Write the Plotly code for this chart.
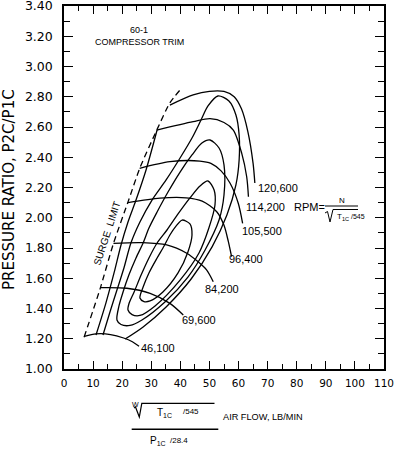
import plotly.graph_objects as go

# ---------------- data ----------------
SURGE_X = [6.9, 12.4, 17.0, 22.1, 26.1, 31.9, 36.4, 40.1]
SURGE_Y = [1.21, 1.53, 1.83, 2.11, 2.33, 2.58, 2.76, 2.85]

SPEED_LABELS = ["46,100", "69,600", "84,200", "96,400", "105,500", "114,200", "120,600"]
SP_46100_X = [7.0, 11.0, 16.0, 20.5, 23.5, 25.8]
SP_46100_Y = [1.215, 1.232, 1.228, 1.205, 1.18, 1.15]
SP_69600_X = [12.4, 21.6, 29.6, 36.4, 41.0]
SP_69600_Y = [1.538, 1.534, 1.50, 1.434, 1.357]
SP_84200_X = [17.0, 27.0, 35.3, 42.2, 46.0, 49.0, 51.3]
SP_84200_Y = [1.831, 1.835, 1.82, 1.765, 1.71, 1.655, 1.577]
SP_96400_X = [22.0, 33.0, 42.0, 47.5, 52.5, 55.0, 56.5, 57.6]
SP_96400_Y = [2.10, 2.13, 2.132, 2.11, 2.04, 1.95, 1.842, 1.743]
SP_105500_X = [26.0, 36.4, 46.7, 50.5, 54.0, 57.1, 59.9, 61.4]
SP_105500_Y = [2.327, 2.371, 2.375, 2.36, 2.31, 2.228, 2.096, 1.963]
SP_114200_X = [31.9, 44.4, 50.2, 55.0, 58.2, 61.1, 62.8, 63.4]
SP_114200_Y = [2.58, 2.635, 2.655, 2.63, 2.58, 2.426, 2.271, 2.139]
SP_120600_X = [36.4, 44.4, 50.0, 55.0, 58.5, 61.0, 63.2, 65.0, 65.6]
SP_120600_Y = [2.745, 2.812, 2.836, 2.835, 2.80, 2.72, 2.57, 2.36, 2.23]

# efficiency contours
EFF_D_X = [40.6, 38.5, 36.4, 34.4, 32.0, 29.2, 27.2, 26.1, 27.5, 29.6, 34.0, 39.2, 42.6, 44.0, 43.3, 40.6]
EFF_D_Y = [1.985, 1.945, 1.886, 1.813, 1.734, 1.635, 1.542, 1.469, 1.446, 1.450, 1.509, 1.635, 1.774, 1.886, 1.959, 1.985]
EFF_C_X = [49.5, 46.75, 43.3, 39.2, 35.4, 32.0, 29.2, 26.5, 24.1, 22.3, 22.0, 23.4, 26.1, 31.3, 39.9, 46.4, 49.8, 51.9, 51.6, 49.5]
EFF_C_Y = [2.243, 2.210, 2.131, 2.025, 1.919, 1.833, 1.734, 1.621, 1.509, 1.430, 1.390, 1.360, 1.354, 1.417, 1.588, 1.767, 1.932, 2.084, 2.183, 2.243]
EFF_B_X = [50.2, 47.4, 44.0, 39.9, 35.75, 32.0, 29.2, 27.2, 24.75, 22.3, 20.3, 18.9, 18.2, 19.6, 22.7, 26.8, 34.7, 42.6, 48.5, 53.3, 55.0, 55.0, 53.3, 50.2]
EFF_B_Y = [2.514, 2.494, 2.415, 2.302, 2.170, 2.038, 1.932, 1.833, 1.734, 1.621, 1.509, 1.417, 1.324, 1.294, 1.288, 1.324, 1.443, 1.608, 1.787, 1.985, 2.150, 2.349, 2.461, 2.514]
EFF_A_X = [13.4, 15.8, 18.2, 20.6, 23.0, 26.1, 30.25, 35.1, 39.9, 44.0, 47.1, 49.5, 52.9, 56.7, 59.1, 60.2, 60.2, 59.1, 56.0, 50.9, 43.7, 35.1, 27.2, 21.0]
EFF_A_Y = [1.225, 1.377, 1.522, 1.668, 1.833, 1.972, 2.117, 2.250, 2.395, 2.527, 2.646, 2.739, 2.805, 2.772, 2.679, 2.547, 2.382, 2.217, 2.018, 1.807, 1.595, 1.410, 1.278, 1.198]
EFF_L_X = [11.0, 14.4, 17.2, 19.6, 22.0, 24.75, 28.2, 32.0]
EFF_L_Y = [1.225, 1.436, 1.635, 1.820, 1.972, 2.117, 2.316, 2.580]

X_TICKS = [0, 10, 20, 30, 40, 50, 60, 70, 80, 90, 100, 110]
Y_TICKS = [1.0, 1.2, 1.4, 1.6, 1.8, 2.0, 2.2, 2.4, 2.6, 2.8, 3.0, 3.2, 3.4]

# ---------------- layout helpers ----------------
W, H = 399, 450
ML, MR, MT, MB = 64, 15, 6, 81
PW, PH = W - ML - MR, H - MT - MB


def pp(x, y):
    """pixel position -> paper coordinates (layout decorations only)"""
    return (x - ML) / PW, (H - MB - y) / PH


FONT_A = "Liberation Sans, Arial, sans-serif"
FONT_D = "DejaVu Sans, sans-serif"

fig = go.Figure()

speed = [(SP_46100_X, SP_46100_Y), (SP_69600_X, SP_69600_Y), (SP_84200_X, SP_84200_Y),
         (SP_96400_X, SP_96400_Y), (SP_105500_X, SP_105500_Y), (SP_114200_X, SP_114200_Y),
         (SP_120600_X, SP_120600_Y)]
for xs, ys in speed:
    fig.add_trace(go.Scatter(x=xs, y=ys, mode="lines", line=dict(color="black", width=1.3, shape="spline", smoothing=0.8),
                             hoverinfo="skip"))

for xs, ys in [(EFF_D_X, EFF_D_Y), (EFF_C_X, EFF_C_Y), (EFF_B_X, EFF_B_Y), (EFF_A_X, EFF_A_Y), (EFF_L_X, EFF_L_Y)]:
    fig.add_trace(go.Scatter(x=xs, y=ys, mode="lines", line=dict(color="black", width=1.3, shape="spline", smoothing=0.8),
                             hoverinfo="skip"))

fig.add_trace(go.Scatter(x=SURGE_X, y=SURGE_Y, mode="lines",
                         line=dict(color="black", width=1.3, dash="6px,4px", shape="spline", smoothing=0.6),
                         hoverinfo="skip"))

ann = []
# speed labels at end of each speed line (pixel offsets are styling)
LABEL_OFFSETS = [(0, 2), (-3, 5), (-10, 7), (-5, 2), (-3, 8), (-4, 10), (1, 5)]
for (xs, ys), lab, (dx, dy) in zip(speed, SPEED_LABELS, LABEL_OFFSETS):
    ann.append(dict(x=xs[-1], y=ys[-1], text=lab, showarrow=False, xanchor="left", yanchor="middle",
                    xshift=dx, yshift=-dy, font=dict(family=FONT_A, size=11, color="black")))


def pa(x, y, text, size, xanchor="left", angle=0, family=FONT_A):
    px_, py_ = pp(x, y)
    ann.append(dict(x=px_, y=py_, xref="paper", yref="paper", text=text, showarrow=False,
                    xanchor=xanchor, yanchor="middle", textangle=angle,
                    font=dict(family=family, size=size, color="black")))


# RPM formula
pa(292, 207, "RPM=", 11)
pa(341.5, 200, "N", 8, xanchor="center")
pa(335, 217.5, "T<sub>1C</sub>", 8)
pa(348.5, 216, "/545", 7)

# header text
pa(139, 30, "60-1", 9, xanchor="center")
pa(139, 42, "COMPRESSOR TRIM", 9, xanchor="center")
pa(106.5, 233, "SURGE  LIMIT", 10, xanchor="center", angle=-72)

# x-axis title formula
pa(135, 404.5, "W", 7, xanchor="center")
pa(155, 413, "T<sub>1C</sub>", 10)
pa(181, 411.5, "/545", 8)
pa(221, 417, "AIR FLOW, LB/MIN", 9.2)
pa(148, 441, "P<sub>1C</sub>", 10)
pa(168, 440.5, "/28.4", 8)

# y-axis title
pa(9, 190, "PRESSURE RATIO, P2C/P1C", 15, xanchor="center", angle=-90, family=FONT_D)

shapes = []


def path_px(points, width=1.2):
    d = ""
    for i, (x, y) in enumerate(points):
        a, b = pp(x, y)
        d += ("M" if i == 0 else "L") + f"{a:.5f},{b:.5f}"
    shapes.append(dict(type="path", path=d, xref="paper", yref="paper",
                       line=dict(color="black", width=width)))


# RPM fraction bar and radical
path_px([(325, 206), (358, 206)])
path_px([(325, 213), (327.5, 211.5), (330, 222), (333, 209.5), (358, 209.5)], 1.0)
# x title fraction bar and radical
path_px([(131.7, 429.3), (218.3, 429.3)], 1.6)
path_px([(134, 408), (135.5, 407), (139.3, 417), (141.8, 403.3), (214.5, 403.3)], 1.2)

fig.update_layout(
    width=W, height=H, margin=dict(l=ML, r=MR, t=MT, b=MB, pad=0, autoexpand=False),
    paper_bgcolor="white", plot_bgcolor="white", showlegend=False,
    annotations=ann, shapes=shapes,
    xaxis=dict(range=[0, 110], tickmode="array", tickvals=X_TICKS, ticktext=[str(v) for v in X_TICKS],
               ticks="inside", ticklen=8, tickwidth=1.3, tickcolor="black",
               minor=dict(dtick=5, tick0=0, ticks="inside", ticklen=5, tickwidth=1.3, tickcolor="black", showgrid=False),
               showline=True, linecolor="black", linewidth=1.5, mirror="ticks", automargin=False,
               showgrid=False, zeroline=False, fixedrange=True, ticklabeloverflow="allow",
               tickfont=dict(family=FONT_D, size=10.5, color="black"), ticklabelstandoff=4),
    yaxis=dict(range=[1.0, 3.4], tickmode="array", tickvals=Y_TICKS, ticktext=[f"{v:.2f}" for v in Y_TICKS],
               ticks="inside", ticklen=9, tickwidth=1.3, tickcolor="black",
               minor=dict(dtick=0.1, tick0=1.0, ticks="inside", ticklen=6, tickwidth=1.3, tickcolor="black", showgrid=False),
               showline=True, linecolor="black", linewidth=1.5, mirror="ticks", automargin=False,
               showgrid=False, zeroline=False, fixedrange=True, ticklabeloverflow="allow",
               tickfont=dict(family=FONT_D, size=12.5, color="black"), ticklabelstandoff=7),
)

fig.write_html("out.html", config={"displayModeBar": False},
               post_script="document.body.style.margin='0px';document.body.style.overflow='hidden';")
